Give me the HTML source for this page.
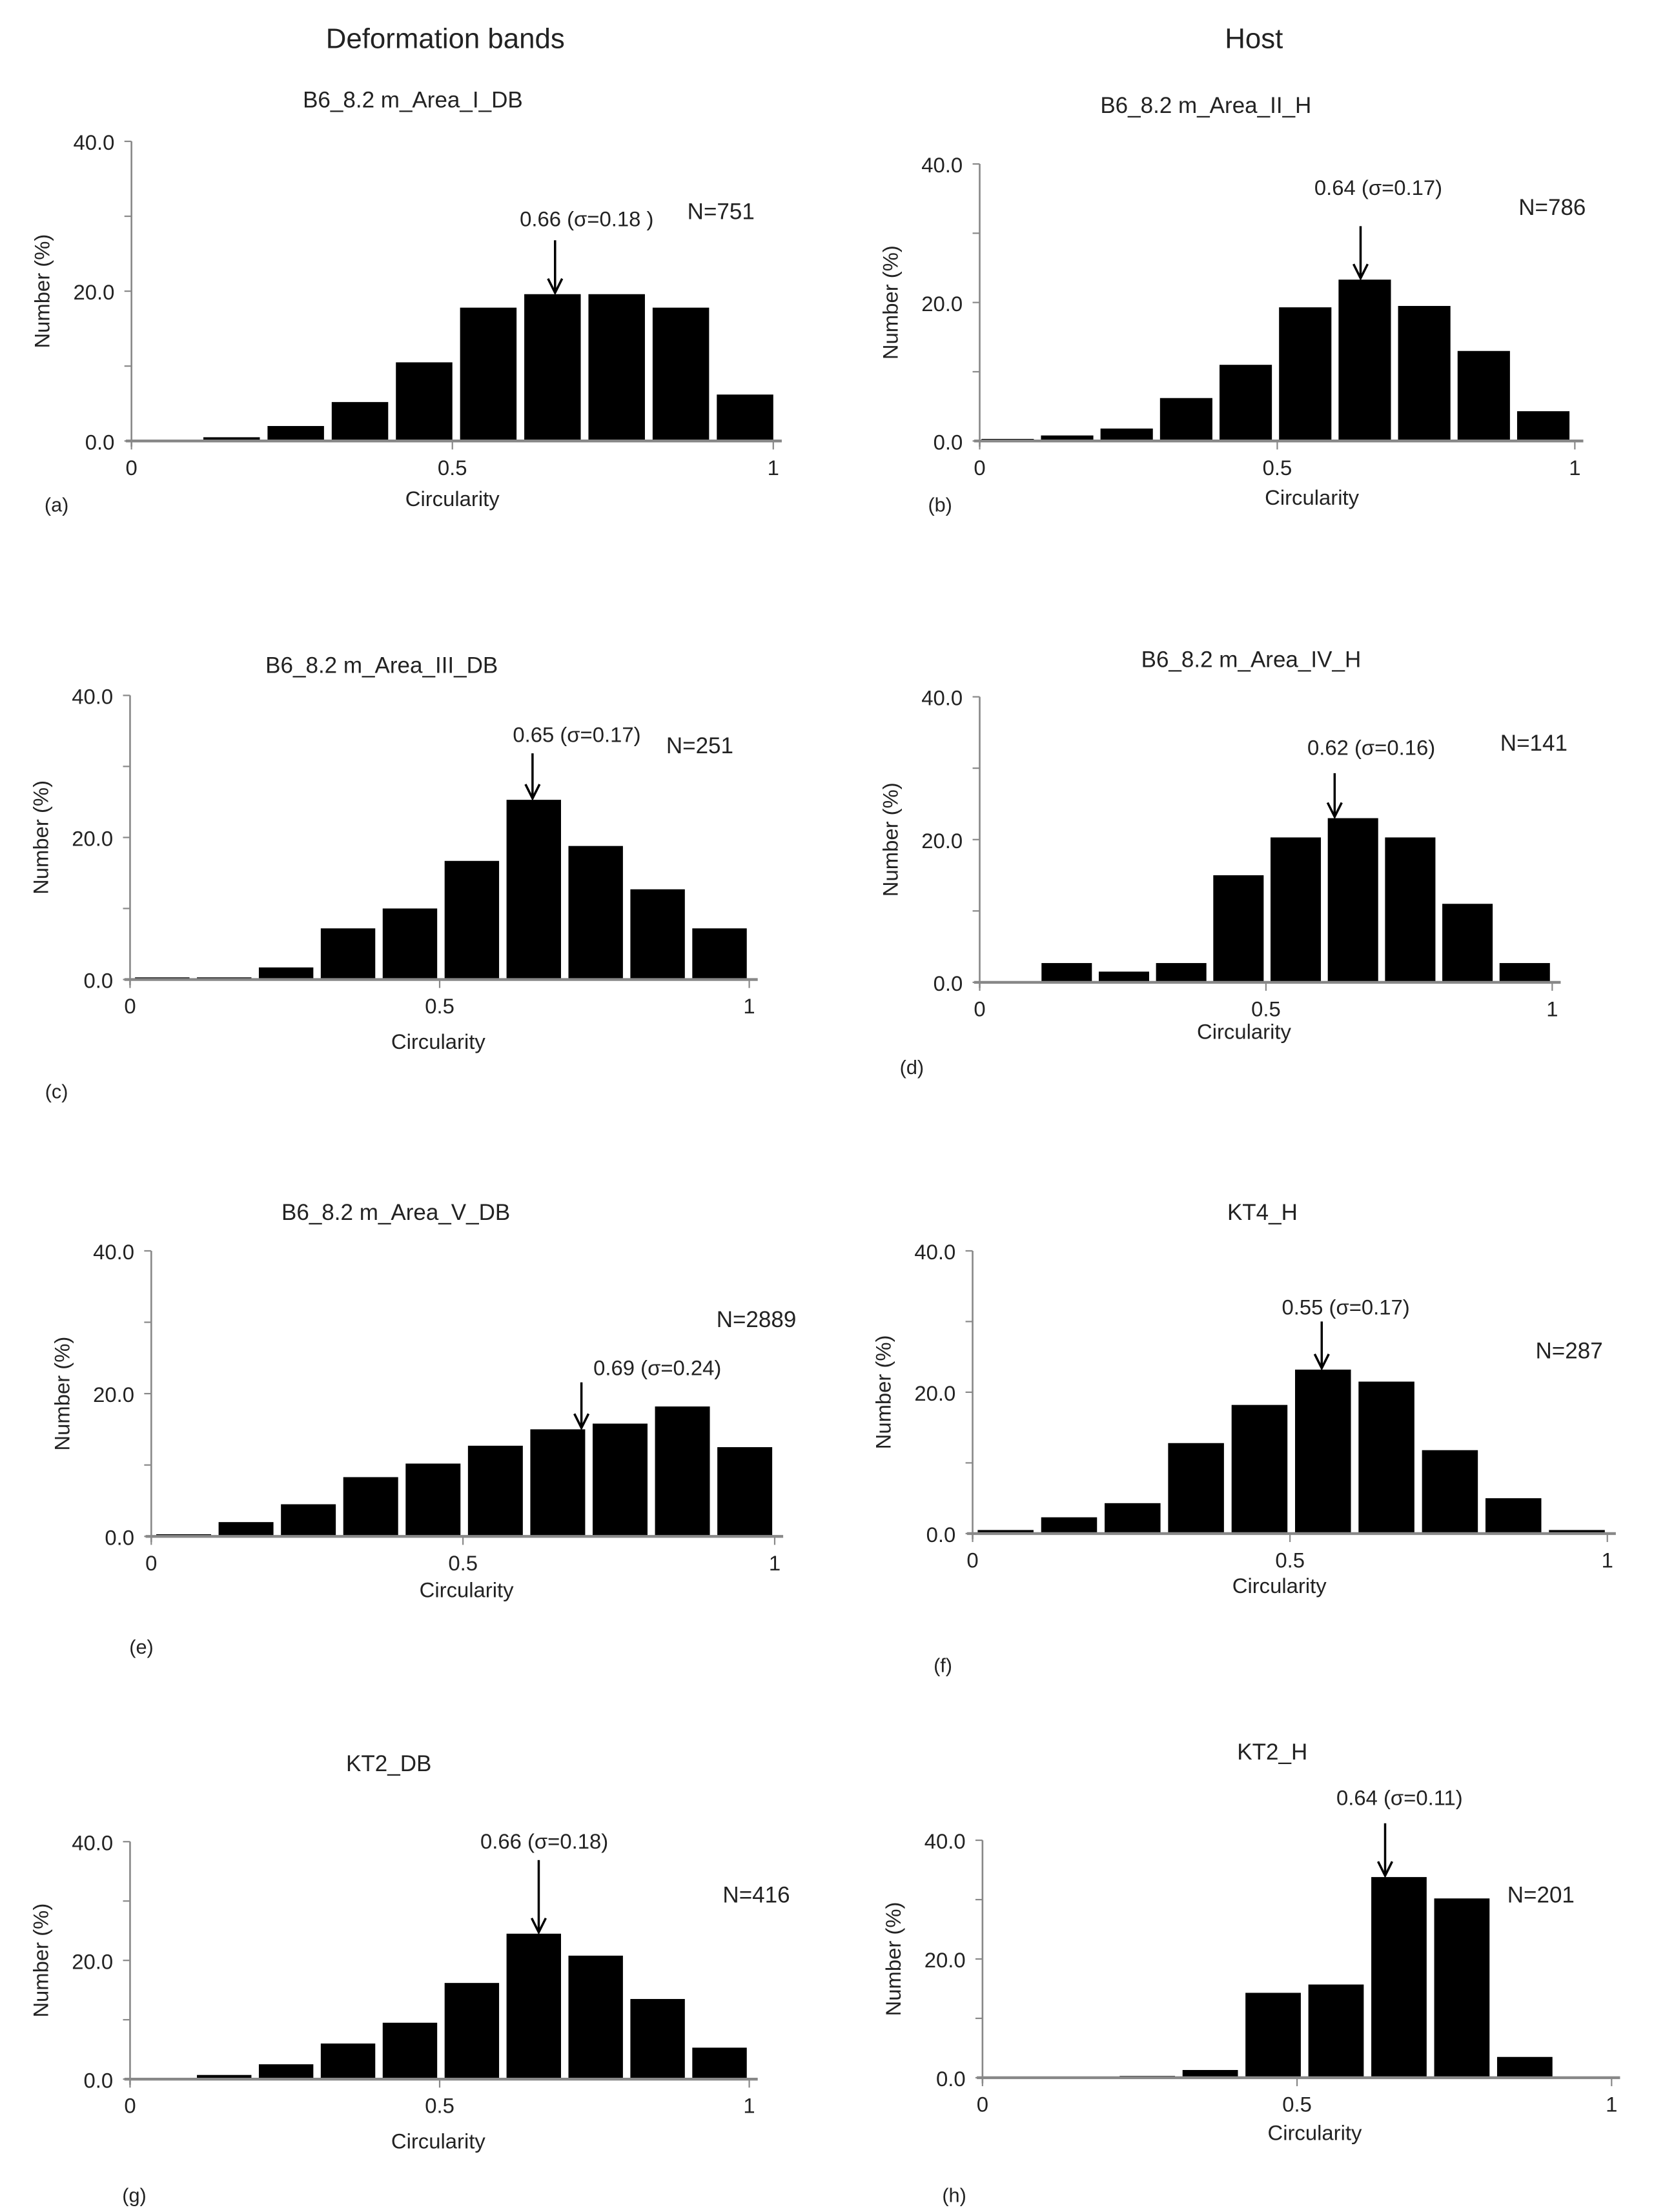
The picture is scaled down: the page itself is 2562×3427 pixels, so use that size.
<!DOCTYPE html>
<html><head><meta charset="utf-8">
<style>
html,body{margin:0;padding:0;background:#fff;}
svg{display:block;}
text{font-family:"Liberation Sans",sans-serif;fill:#222;}
</style></head>
<body>
<svg id="fig" width="2562" height="3427" viewBox="0 0 1170 1565" xmlns="http://www.w3.org/2000/svg">
<text x="315" y="34" font-size="20" text-anchor="middle">Deformation bands</text>
<text x="887" y="34" font-size="20" text-anchor="middle">Host</text>
</svg>
<script>
const bins = [0,0.1,0.2,0.3,0.4,0.5,0.6,0.7,0.8,0.9];
const yTicks = [0,10,20,30,40];
const yTickLabels = ["0.0","","20.0","","40.0"];
const xTicks = [0,0.5,1];
const xTickLabels = ["0","0.5","1"];
const valsA = [0,0.5,2,5.2,10.5,17.8,19.6,19.6,17.8,6.2];
const valsB = [0.3,0.8,1.8,6.2,11,19.3,23.3,19.5,13,4.3];
const valsC = [0.3,0.3,1.7,7.2,10,16.7,25.3,18.8,12.7,7.2];
const valsD = [0,2.7,1.5,2.7,15,20.3,23,20.3,11,2.7];
const valsE = [0.3,2,4.5,8.3,10.2,12.7,15,15.8,18.2,12.5];
const valsF = [0.5,2.3,4.3,12.8,18.2,23.2,21.5,11.8,5,0.5];
const valsG = [0,0.7,2.5,6,9.5,16.2,24.5,20.8,13.5,5.3];
const valsH = [0,0,0.3,1.3,14.3,15.7,33.8,30.2,3.5,0];
const titles = ["B6_8.2 m_Area_I_DB","B6_8.2 m_Area_II_H","B6_8.2 m_Area_III_DB","B6_8.2 m_Area_IV_H","B6_8.2 m_Area_V_DB","KT4_H","KT2_DB","KT2_H"];
const means = [0.66,0.64,0.65,0.62,0.69,0.55,0.66,0.64];
const sigmas = ["0.18 )","0.17)","0.17)","0.16)","0.24)","0.17)","0.18)","0.11)"];
const counts = [751,786,251,141,2889,287,416,201];
const letters = ["a","b","c","d","e","f","g","h"];

const layout = [
 {x0:93,x1:547,y0:312,y40:100,tx:292,ty:76,nx:510,ny:155,ax:415,ay:160,a1:170,lx:40,ly:362,cx:320,cy:358,shift:0.012},
 {x0:693,x1:1114,y0:312,y40:116,tx:853,ty:80,nx:1098,ny:152,ax:975,ay:138,a1:160,lx:665,ly:362,cx:928,cy:357,shift:0.003},
 {x0:92,x1:530,y0:693,y40:492,tx:270,ty:476,nx:495,ny:533,ax:408,ay:525,a1:533,lx:40,ly:777,cx:310,cy:742,shift:0.008},
 {x0:693,x1:1098,y0:695,y40:493,tx:885,ty:472,nx:1085,ny:531,ax:970,ay:534,a1:547,lx:645,ly:760,cx:880,cy:735,shift:0.008},
 {x0:107,x1:548,y0:1087,y40:885,tx:280,ty:863,nx:535,ny:939,ax:465,ay:973,a1:978,lx:100,ly:1170,cx:330,cy:1130,shift:0.008},
 {x0:688,x1:1137,y0:1085,y40:885,tx:893,ty:863,nx:1110,ny:961,ax:952,ay:930,a1:935,lx:667,ly:1183,cx:905,cy:1127,shift:0.008},
 {x0:92,x1:530,y0:1471,y40:1303,tx:275,ty:1253,nx:535,ny:1346,ax:385,ay:1308,a1:1316,lx:95,ly:1558,cx:310,cy:1520,shift:0.008},
 {x0:695,x1:1140,y0:1470,y40:1302,tx:900,ty:1245,nx:1090,ny:1346,ax:990,ay:1277,a1:1290,lx:675,ly:1558,cx:930,cy:1514,shift:0.018}
];
const allVals = [valsA,valsB,valsC,valsD,valsE,valsF,valsG,valsH];
const NS = "http://www.w3.org/2000/svg";
const svg = document.getElementById('fig');
function mk(tag, attrs, parent){
  const e = document.createElementNS(NS, tag);
  for (const k in attrs) e.setAttribute(k, attrs[k]);
  parent.appendChild(e);
  return e;
}
allVals.forEach((vals, i) => {
  const L = layout[i];
  const xs = v => L.x0 + v*(L.x1-L.x0);
  const ys = v => L.y0 - v/40*(L.y0-L.y40);
  const g = mk('g', {}, svg);
  
  
  vals.forEach((v, j) => {
    if (v <= 0) return;
    const lo = bins[j] + L.shift, hi = bins[j] + 0.1 - 0.012 + L.shift;
    const r = mk('rect', {x: xs(lo), y: ys(v), width: xs(hi)-xs(lo), height: ys(0)-ys(v), fill:'#000'}, g);
    
    
  });
  const ya = mk('line', {x1:L.x0, y1:L.y40, x2:L.x0, y2:L.y0+4, stroke:'#888', 'stroke-width':1.2}, g);
  
  
  const xa = mk('line', {x1:L.x0-4, y1:L.y0, x2:L.x1+6, y2:L.y0, stroke:'#888', 'stroke-width':2}, g);
  
  
  yTicks.forEach((t, k) => {
    mk('line', {x1:L.x0-5, y1:ys(t), x2:L.x0, y2:ys(t), stroke:'#888', 'stroke-width':1}, g);
    if (yTickLabels[k]) {
      const tl = mk('text', {x:L.x0-12, y:ys(t)+6, 'font-size':15, 'text-anchor':'end'}, g);
      tl.textContent = yTickLabels[k];
      
      
    }
  });
  xTicks.forEach((t, k) => {
    mk('line', {x1:xs(t), y1:L.y0, x2:xs(t), y2:L.y0+6, stroke:'#888', 'stroke-width':1}, g);
    const tl = mk('text', {x:xs(t), y:L.y0+24, 'font-size':15, 'text-anchor':'middle'}, g);
    tl.textContent = xTickLabels[k];
    
    
  });
  const yl = mk('text', {x:0, y:0, 'font-size':15, 'text-anchor':'middle', transform:`translate(${L.x0-58},${(L.y0+L.y40)/2}) rotate(-90)`}, g);
  yl.textContent = 'Number (%)';
  
  
  const xl = mk('text', {x:L.cx, y:L.cy, 'font-size':15, 'text-anchor':'middle'}, g);
  xl.textContent = 'Circularity';
  
  
  const tt = mk('text', {x:L.tx, y:L.ty, 'font-size':16, 'text-anchor':'middle'}, g);
  tt.textContent = titles[i];
  
  
  const nt = mk('text', {x:L.nx, y:L.ny, 'font-size':16, 'text-anchor':'middle'}, g);
  nt.textContent = 'N=' + counts[i];
  
  
  const at = mk('text', {x:L.ax, y:L.ay, 'font-size':15, 'text-anchor':'middle'}, g);
  at.textContent = means[i].toFixed(2) + ' (σ=' + sigmas[i];
  
  
  const mx = xs(means[i]);
  const bi = Math.min(9, Math.floor(means[i]*10));
  const tip = ys(vals[bi]) - 1;
  const ar = mk('line', {x1:mx, y1:L.a1, x2:mx, y2:tip, stroke:'#000', 'stroke-width':1.6}, g);
  
  
  mk('path', {d:`M${mx-5},${tip-10} L${mx},${tip} L${mx+5},${tip-10}`, fill:'none', stroke:'#000', 'stroke-width':1.6}, g);
  const lt = mk('text', {x:L.lx, y:L.ly, 'font-size':14, 'text-anchor':'middle'}, g);
  lt.textContent = '(' + letters[i] + ')';
  
  
});
</script>
</body></html>
